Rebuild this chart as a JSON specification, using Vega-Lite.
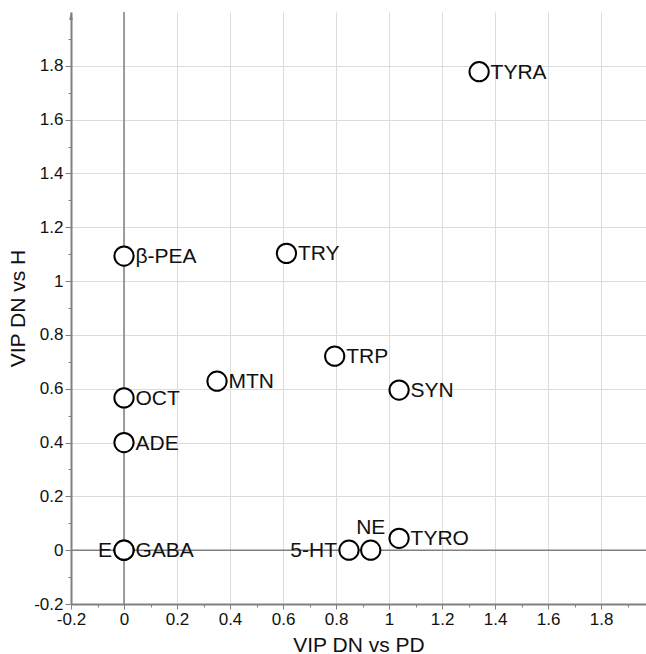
{
  "$schema": "https://vega.github.io/schema/vega-lite/v6.json",
  "width": 575,
  "height": 592,
  "autosize": {"type": "none"},
  "padding": {"left": 71, "top": 12, "right": 0, "bottom": 50},
  "config": {
    "view": {"stroke": null},
    "font": "Liberation Sans",
    "axis": {
      "domainColor": "#808080",
      "domainWidth": 2,
      "tickColor": "#808080",
      "tickWidth": 1,
      "labelFont": "Liberation Sans",
      "labelFontSize": 17,
      "labelColor": "#111111",
      "titleFont": "Liberation Sans",
      "titleFontSize": 21,
      "titleFontWeight": "normal",
      "titleColor": "#111111",
      "labelOverlap": false,
      "labelBound": false,
      "labelFlush": false
    }
  },
  "datasets": {
    "metabolites": [
      {"label": "TYRA", "x": 1.34, "y": 1.778},
      {"label": "β-PEA", "x": 0, "y": 1.093},
      {"label": "TRY", "x": 0.613, "y": 1.103},
      {"label": "TRP", "x": 0.795, "y": 0.721},
      {"label": "MTN", "x": 0.351, "y": 0.628},
      {"label": "SYN", "x": 1.038, "y": 0.595},
      {"label": "OCT", "x": 0, "y": 0.566},
      {"label": "ADE", "x": 0, "y": 0.4},
      {"label": "E", "x": 0, "y": 0},
      {"label": "GABA", "x": 0, "y": 0},
      {"label": "5-HT", "x": 0.849, "y": 0},
      {"label": "NE", "x": 0.931, "y": 0},
      {"label": "TYRO", "x": 1.038, "y": 0.044}
    ],
    "zero": [{"v": 0}],
    "arrowUp": [{"x": -0.2, "y": 2.0}],
    "arrowRight": [{"x": 2.0, "y": -0.2}]
  },
  "resolve": {"axis": {"x": "independent", "y": "independent"}},
  "layer": [
    {
      "data": {"name": "metabolites"},
      "mark": {"type": "point", "opacity": 0},
      "encoding": {
        "x": {
          "field": "x", "type": "quantitative",
          "scale": {"domain": [-0.2, 1.9697], "nice": false, "zero": false},
          "axis": {
            "orient": "bottom",
            "title": "VIP DN vs PD",
            "values": [-0.2, 0, 0.2, 0.4, 0.6, 0.8, 1, 1.2, 1.4, 1.6, 1.8],
            "grid": true,
            "gridColor": "#dcdcdc",
            "tickSize": 5,
            "labelExpr": "'' + datum.value",
            "labelPadding": 2,
            "titlePadding": 7
          }
        },
        "y": {
          "field": "y", "type": "quantitative",
          "scale": {"domain": [-0.2, 2.0], "nice": false, "zero": false},
          "axis": {
            "orient": "left",
            "title": "VIP DN vs H",
            "values": [-0.2, 0, 0.2, 0.4, 0.6, 0.8, 1, 1.2, 1.4, 1.6, 1.8],
            "grid": true,
            "gridColor": "#dcdcdc",
            "tickSize": 6,
            "labelExpr": "'' + datum.value",
            "labelPadding": 2,
            "titlePadding": 5
          }
        }
      }
    },
    {
      "data": {"name": "metabolites"},
      "mark": {"type": "point", "opacity": 0},
      "encoding": {
        "x": {
          "field": "x", "type": "quantitative",
          "axis": {
            "orient": "bottom",
            "title": null,
            "values": [-0.1, 0.1, 0.3, 0.5, 0.7, 0.9, 1.1, 1.3, 1.5, 1.7, 1.9],
            "grid": false,
            "domain": false,
            "labels": false,
            "tickSize": 3
          }
        },
        "y": {
          "field": "y", "type": "quantitative",
          "axis": {
            "orient": "left",
            "title": null,
            "values": [-0.1, 0.1, 0.3, 0.5, 0.7, 0.9, 1.1, 1.3, 1.5, 1.7, 1.9],
            "grid": false,
            "domain": false,
            "labels": false,
            "tickSize": 3
          }
        }
      }
    },
    {
      "data": {"name": "zero"},
      "mark": {"type": "rule", "color": "#808080", "strokeWidth": 1.5},
      "encoding": {"x": {"field": "v", "type": "quantitative", "axis": null}}
    },
    {
      "data": {"name": "zero"},
      "mark": {"type": "rule", "color": "#808080", "strokeWidth": 1.5},
      "encoding": {"y": {"field": "v", "type": "quantitative", "axis": null}}
    },
    {
      "data": {"name": "arrowUp"},
      "mark": {"type": "point", "shape": "M0,0L0.45,2L-0.45,2Z", "size": 64, "filled": true, "color": "#808080", "opacity": 1, "clip": false},
      "encoding": {
        "x": {"field": "x", "type": "quantitative", "axis": null},
        "y": {"field": "y", "type": "quantitative", "axis": null}
      }
    },
    {
      "data": {"name": "arrowRight"},
      "mark": {"type": "point", "shape": "M0,0L-2,-0.45L-2,0.45Z", "size": 64, "filled": true, "color": "#808080", "opacity": 1, "clip": false},
      "encoding": {
        "x": {"field": "x", "type": "quantitative", "axis": null},
        "y": {"field": "y", "type": "quantitative", "axis": null}
      }
    },
    {
      "data": {"name": "metabolites"},
      "mark": {"type": "point", "shape": "circle", "size": 370, "filled": true, "fill": "white", "stroke": "black", "strokeWidth": 2, "opacity": 1},
      "encoding": {
        "x": {"field": "x", "type": "quantitative", "axis": null},
        "y": {"field": "y", "type": "quantitative", "axis": null}
      }
    },
    {
      "data": {"name": "metabolites"},
      "transform": [{"filter": "indexof(['E', '5-HT', 'NE'], datum.label) < 0"}],
      "mark": {"type": "text", "align": "left", "baseline": "middle", "dx": 11.5, "dy": 1, "fontSize": 21, "font": "Liberation Sans", "color": "#111111"},
      "encoding": {
        "x": {"field": "x", "type": "quantitative", "axis": null},
        "y": {"field": "y", "type": "quantitative", "axis": null},
        "text": {"field": "label"}
      }
    },
    {
      "data": {"name": "metabolites"},
      "transform": [{"filter": "datum.label == 'E' || datum.label == '5-HT'"}],
      "mark": {"type": "text", "align": "right", "baseline": "middle", "dx": -12, "dy": 1, "fontSize": 21, "font": "Liberation Sans", "color": "#111111"},
      "encoding": {
        "x": {"field": "x", "type": "quantitative", "axis": null},
        "y": {"field": "y", "type": "quantitative", "axis": null},
        "text": {"field": "label"}
      }
    },
    {
      "data": {"name": "metabolites"},
      "transform": [{"filter": "datum.label == 'NE'"}],
      "mark": {"type": "text", "align": "center", "baseline": "middle", "dy": -22, "fontSize": 21, "font": "Liberation Sans", "color": "#111111"},
      "encoding": {
        "x": {"field": "x", "type": "quantitative", "axis": null},
        "y": {"field": "y", "type": "quantitative", "axis": null},
        "text": {"field": "label"}
      }
    }
  ]
}
